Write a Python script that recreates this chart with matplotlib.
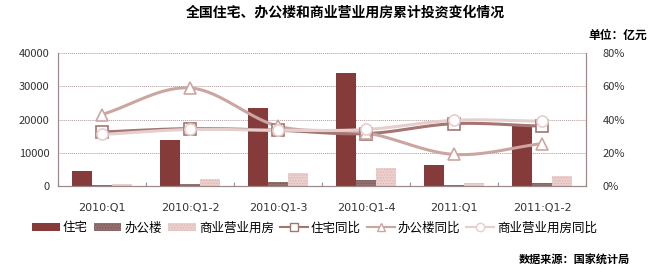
import matplotlib
matplotlib.use("Agg")
import matplotlib.pyplot as plt
import numpy as np
from matplotlib.ticker import FuncFormatter

plt.rcParams['font.family'] = ['Noto Sans CJK SC', 'DejaVu Sans']
plt.rcParams['hatch.linewidth'] = 0.6

# data (亿元 / 同比)
quarters = ["2010:Q1", "2010:Q1-2", "2010:Q1-3", "2010:Q1-4", "2011:Q1", "2011:Q1-2"]
housing = [4500, 13700, 23500, 34000, 6200, 18200]
office = [250, 700, 1200, 1700, 300, 900]
commercial = [600, 2100, 3800, 5500, 800, 3000]
housing_yoy = [0.325, 0.345, 0.335, 0.315, 0.375, 0.36]
office_yoy = [0.43, 0.59, 0.36, 0.32, 0.19, 0.255]
commercial_yoy = [0.31, 0.34, 0.335, 0.34, 0.395, 0.39]

C_HOUSE = "#853b3a"
C_OFFICE = "#937170"
C_COMM = "#ecd0cd"
L_HOUSE = "#a47573"
L_OFFICE = "#cba5a2"
L_COMM = "#e5cfcc"
C_AXIS = "#9c8a8a"


def smooth(xs, ys, n=20):
    # catmull-rom, only for drawing the curved line
    xs = np.asarray(xs, float)
    ys = np.asarray(ys, float)
    px = np.concatenate([[2 * xs[0] - xs[1]], xs, [2 * xs[-1] - xs[-2]]])
    py = np.concatenate([[2 * ys[0] - ys[1]], ys, [2 * ys[-1] - ys[-2]]])
    ox, oy = [], []
    t = np.linspace(0, 1, n)
    for i in range(1, len(px) - 2):
        for arr, out in ((px, ox), (py, oy)):
            p0, p1, p2, p3 = arr[i - 1], arr[i], arr[i + 1], arr[i + 2]
            out.extend(0.5 * (2 * p1 + (-p0 + p2) * t + (2 * p0 - 5 * p1 + 4 * p2 - p3) * t ** 2
                              + (-p0 + 3 * p1 - 3 * p2 + p3) * t ** 3))
    return ox, oy


fig = plt.figure(figsize=(6.5, 2.73), dpi=100)
ax = fig.add_axes([58 / 650, 1 - 186 / 273, (586 - 58) / 650, (186 - 53) / 273])
ax2 = ax.twinx()

x = np.arange(len(quarters))
w = 0.225
ax.bar(x - w, housing, w, color=C_HOUSE, label="住宅", zorder=2)
ax.bar(x, office, w, color=C_OFFICE, hatch="......", edgecolor="#7a5757", lw=0, label="办公楼", zorder=2)
ax.bar(x + w, commercial, w, color=C_COMM, hatch="......", edgecolor="#dcb6b2", lw=0, label="商业营业用房", zorder=2)

ax.set_xlim(-0.5, len(quarters) - 0.5)
ax.set_ylim(0, 40000)
ax.set_yticks([0, 10000, 20000, 30000, 40000])
ax.set_xticks(np.arange(len(quarters) + 1) - 0.5)
ax.set_xticklabels([])
ax.tick_params(axis="x", direction="in", length=3, color=C_AXIS)
ax.tick_params(axis="y", length=0, labelsize=8, pad=6, labelcolor="#333333")
for q, xi in zip(quarters, x):
    ax.text(xi, -0.165, q, transform=ax.get_xaxis_transform(), ha="center", va="center",
            fontsize=8, family="DejaVu Sans", color="#333333")
ax.grid(axis="y", linestyle=(0, (1, 1)), color="#b49a9a", lw=0.7, zorder=0)

for s in ["left", "bottom", "right"]:
    ax.spines[s].set_color(C_AXIS)
    ax2.spines[s].set_color(C_AXIS)
ax.spines["top"].set_visible(False)
ax2.spines["top"].set_visible(False)

handles = []
for vals, lc, mk, name in [(housing_yoy, L_HOUSE, "s", "住宅同比"),
                            (office_yoy, L_OFFICE, "^", "办公楼同比"),
                            (commercial_yoy, L_COMM, "o", "商业营业用房同比")]:
    sx, sy = smooth(x, vals)
    ax2.plot(sx, sy, color=lc, lw=2.2, zorder=3)
    ax2.plot(x, vals, ls="none", marker=mk, ms=8, mfc="white", mec=lc, mew=1.2, zorder=4)
    h, = ax2.plot([], [], color=lc, lw=1.5, marker=mk, ms=6, mfc="white", mec=lc, label=name)
    handles.append(h)

ax2.set_ylim(0, 0.8)
ax2.set_yticks([0, 0.2, 0.4, 0.6, 0.8])
ax2.yaxis.set_major_formatter(FuncFormatter(lambda v, p: f"{v * 100:.0f}%"))
ax2.tick_params(axis="y", length=0, labelsize=8, pad=12, labelcolor="#333333")
ax.set_zorder(1)
ax.patch.set_visible(False)
ax2.set_zorder(2)
ax2.patch.set_visible(False)

bh, bl = ax.get_legend_handles_labels()
fig.legend(bh + handles, bl + [h.get_label() for h in handles], loc="center left",
           bbox_to_anchor=(32 / 650, 1 - 228 / 273), ncol=6, frameon=False, fontsize=9,
           handlelength=2.2, handleheight=0.6, handletextpad=0.25, columnspacing=0.5,
           borderaxespad=0, borderpad=0)

fig.text(345 / 650, 1 - 13 / 273, "全国住宅、办公楼和商业营业用房累计投资变化情况", ha="center", va="center",
         fontsize=10, weight="bold")
fig.text(647 / 650, 1 - 35 / 273, "单位：亿元", ha="right", va="center", fontsize=8.5, weight="bold")
fig.text(630 / 650, 1 - 260 / 273, "数据来源：国家统计局", ha="right", va="center", fontsize=8, weight="bold")

fig.savefig("out.png", dpi=100, facecolor="white")
